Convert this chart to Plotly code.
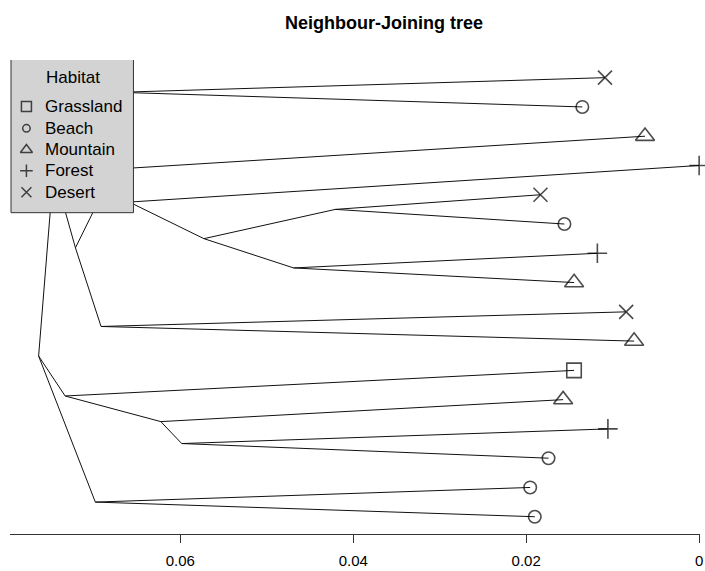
import plotly.graph_objects as go

# ---------------- data ----------------
# Neighbour-joining tree: edges (parent -> child) with branch lengths
edge_parent = ["root", "root", "root", "L", "L", "I", "I", "D", "D", "G", "G",
               "F", "F", "A", "A", "C", "C", "B", "B", "E", "E",
               "J", "J", "M", "M", "N", "N", "K", "K"]
edge_child = ["L", "J", "K", "I", "D", "t1", "t2", "G", "E", "t3", "F",
              "t4", "A", "C", "B", "t5", "t6", "t7", "t8", "t9", "t10",
              "t11", "M", "t12", "N", "t13", "t14", "t15", "t16"]
edge_length = [0.00173, 0.00307, 0.00656, 0.00760, 0.00253, 0.05617, 0.05355,
               0.00449, 0.00296, 0.06138, 0.00173, 0.06591, 0.00864, 0.01520,
               0.01037, 0.02372, 0.02649, 0.03513, 0.03244, 0.06073, 0.06165,
               0.05885, 0.01106, 0.04653, 0.00242, 0.04929, 0.04242, 0.05029,
               0.05082]

# tips, in plotting order from top to bottom
tip_labels = ["t1", "t2", "t3", "t4", "t5", "t6", "t7", "t8",
              "t9", "t10", "t11", "t12", "t13", "t14", "t15", "t16"]
tip_habitat = ["Desert", "Beach", "Mountain", "Forest", "Desert", "Beach",
               "Forest", "Mountain", "Desert", "Mountain", "Grassland",
               "Mountain", "Forest", "Beach", "Beach", "Beach"]

legend_habitats = ["Grassland", "Beach", "Mountain", "Forest", "Desert"]
tick_values = [0.06, 0.04, 0.02, 0.0]
tick_labels = ["0.06", "0.04", "0.02", "0"]

# ---------------- layout of the tree ----------------
depth = {"root": 0.0}
children = {}
for p, c, bl in zip(edge_parent, edge_child, edge_length):
    depth[c] = depth[p] + bl
    children.setdefault(p, []).append(c)

ypos = {t: i + 1 for i, t in enumerate(tip_labels)}


def node_y(n):
    if n in ypos:
        return ypos[n]
    ys = [node_y(c) for c in children[n]]
    ypos[n] = sum(ys) / len(ys)
    return ypos[n]


node_y("root")
max_depth = max(depth[t] for t in tip_labels)
height = {n: max_depth - d for n, d in depth.items()}

xs, ys = [], []
for p, c in zip(edge_parent, edge_child):
    xs += [height[p], height[c], None]
    ys += [ypos[p], ypos[c], None]

symbol_map = {"Grassland": "square-open", "Beach": "circle-open",
              "Mountain": "triangle-up-open", "Forest": "cross-thin-open",
              "Desert": "x-thin-open"}
size_map = {"Grassland": 14.5, "Beach": 12.5, "Mountain": 16.5,
            "Forest": 14, "Desert": 14}
legend_size = {"Grassland": 10, "Beach": 7.5, "Mountain": 10.5,
               "Forest": 9, "Desert": 10}

FONT = "Liberation Sans, Arial, sans-serif"

fig = go.Figure()
fig.add_trace(go.Scatter(x=xs, y=ys, mode="lines",
                         line=dict(color="#111111", width=1),
                         hoverinfo="skip", showlegend=False))
fig.add_trace(go.Scatter(
    x=[height[t] for t in tip_labels], y=[ypos[t] for t in tip_labels],
    mode="markers", cliponaxis=False, showlegend=False,
    text=tip_habitat,
    marker=dict(symbol=[symbol_map[h] for h in tip_habitat],
                size=[size_map[h] for h in tip_habitat],
                color="black", line=dict(color="black", width=1.6))))

# ---------------- legend (drawn on an overlay pixel-like axis) ----------------
box_x = [11, 134, 134, 11, 11]
box_y = [59.5, 59.5, 213, 213, 59.5]
fig.add_trace(go.Scatter(x=box_x, y=box_y, xaxis="x2", yaxis="y2",
                         mode="lines", fill="toself", fillcolor="#D3D3D3",
                         line=dict(color="#333333", width=1),
                         hoverinfo="skip", showlegend=False))
leg_rows_y = [106.7, 128.5, 150, 171, 192.5]
fig.add_trace(go.Scatter(
    x=[26.5] * len(legend_habitats), y=leg_rows_y, xaxis="x2", yaxis="y2",
    mode="markers", cliponaxis=False, showlegend=False, hoverinfo="skip",
    marker=dict(symbol=[symbol_map[h] for h in legend_habitats],
                size=[legend_size[h] for h in legend_habitats],
                color="black", line=dict(color="black", width=1.5))))

annotations = [dict(x=73, y=77.7, xref="x2", yref="y2", text="Habitat",
                    showarrow=False, xanchor="center", yanchor="middle",
                    font=dict(family=FONT, size=17, color="black"))]
for h, yy in zip(legend_habitats, leg_rows_y):
    annotations.append(dict(x=43.5, y=yy, xref="x2", yref="y2", text=h,
                            showarrow=False, xanchor="left", yanchor="middle",
                            font=dict(family=FONT, size=17, color="black")))

fig.update_layout(
    width=705, height=571,
    margin=dict(l=10, r=2, t=60, b=36),
    paper_bgcolor="white", plot_bgcolor="white",
    showlegend=False,
    title=dict(text="Neighbour-Joining tree", x=384 / 705, xref="container",
               xanchor="center", y=1 - 23 / 571, yref="container",
               yanchor="middle",
               font=dict(family=FONT, size=18, color="black", weight="bold")),
    xaxis=dict(range=[0.0797, -0.0001], showgrid=False, zeroline=False,
               showline=True, linecolor="#333333", linewidth=1,
               ticks="outside", ticklen=8, tickcolor="#333333", tickwidth=1,
               tickvals=tick_values, ticktext=tick_labels,
               ticklabeloverflow="allow", ticklabelstandoff=5,
               tickfont=dict(family=FONT, size=15, color="black")),
    yaxis=dict(range=[16.59, 0.3965], visible=False),
    xaxis2=dict(overlaying="x", range=[10, 703], visible=False),
    yaxis2=dict(overlaying="y", range=[535, 60], visible=False),
    annotations=annotations,
)

fig.write_html("out.html",
               config={"displayModeBar": False},
               post_script="document.body.style.margin='0';"
                           "document.body.style.overflow='hidden';")
